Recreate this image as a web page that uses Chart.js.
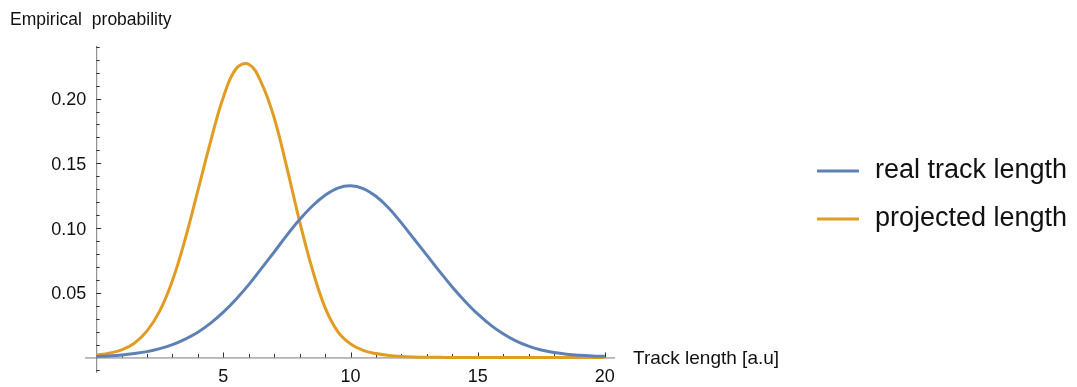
<!DOCTYPE html>
<html>
<head>
<meta charset="utf-8">
<script src="https://cdn.jsdelivr.net/npm/chart.js@4.4.1/dist/chart.umd.min.js"></script>
<style>
  html, body { margin: 0; padding: 0; background: #ffffff; }
</style>
</head>
<body>
<canvas id="plot" width="1077" height="387"></canvas>
<script>
// values, x step 0.5
const trackLength = [0, 0.5, 1, 1.5, 2, 2.5, 3, 3.5, 4, 4.5, 5, 5.5, 6, 6.5, 7, 7.5, 8, 8.5, 9, 9.5, 10,
  10.5, 11, 11.5, 12, 12.5, 13, 13.5, 14, 14.5, 15, 15.5, 16, 16.5, 17, 17.5, 18, 18.5, 19, 19.5, 20];
const realTrack = [0.0007, 0.0012, 0.0019, 0.003, 0.0045, 0.0068, 0.0099, 0.0142, 0.0195, 0.0265,
  0.035, 0.045, 0.0563, 0.0688, 0.0815, 0.0945, 0.1065, 0.117, 0.1253, 0.1308, 0.1326,
  0.1305, 0.1245, 0.1155, 0.104, 0.0915, 0.079, 0.0665, 0.0545, 0.0435, 0.0336, 0.0252, 0.0183,
  0.0128, 0.0087, 0.0058, 0.0038, 0.0025, 0.0017, 0.0012, 0.0009];
const projected = [0.0018, 0.0033, 0.0058, 0.011, 0.0205, 0.036, 0.0595, 0.0915, 0.129, 0.167, 0.201,
  0.223, 0.2265, 0.212, 0.185, 0.1465, 0.105, 0.068, 0.0385, 0.02, 0.0105, 0.0055, 0.003, 0.0016,
  0.0008, 0.0004, 0.0002, 0.0001, 0, 0, 0, 0, 0, 0, 0, 0, 0, 0, 0, 0, 0];

const seriesNames = ['real track length', 'projected length'];
const seriesColors = ['#5e81b5', '#e19c24'];
const xMajor = [5, 10, 15, 20];
const xLabels = ['5', '10', '15', '20'];
const yMajor = [0.05, 0.10, 0.15, 0.20];
const yLabels = ['0.05', '0.10', '0.15', '0.20'];
const xTitle = 'Track length [a.u]';
const yTitle = 'Empirical probability';

const FONT = '"Liberation Sans", Arial, sans-serif';

// axes through the origin, ticks pointing inwards (Mathematica style)
const axesPlugin = {
  id: 'axes',
  beforeDatasetsDraw(chart) {
    const {ctx, scales: {x, y}} = chart;
    const x0 = x.getPixelForValue(0);
    const y0 = y.getPixelForValue(0);
    ctx.save();
    ctx.lineWidth = 1;
    ctx.strokeStyle = '#7a7a7a';
    ctx.beginPath();
    ctx.moveTo(x.left, y0 + 0.5);
    ctx.lineTo(x.right, y0 + 0.5);
    ctx.moveTo(x0 + 0.5, y.top);
    ctx.lineTo(x0 + 0.5, y.bottom);
    ctx.stroke();

    ctx.strokeStyle = '#333';
    ctx.beginPath();
    for (let v = 1; v <= 20; v++) {
      const px = Math.round(x.getPixelForValue(v)) + 0.5;
      const len = v % 5 === 0 ? 5 : 3.5;
      ctx.moveTo(px, y0);
      ctx.lineTo(px, y0 - len);
    }
    for (let i = -1; i <= 24; i++) {
      if (i === 0) continue;
      const py = Math.round(y.getPixelForValue(i / 100)) + 0.5;
      const len = i % 5 === 0 ? 5 : 3.5;
      ctx.moveTo(x0, py);
      ctx.lineTo(x0 + len, py);
    }
    ctx.stroke();
    ctx.restore();
  },
  afterDraw(chart) {
    const {ctx, scales: {x, y}} = chart;
    const x0 = x.getPixelForValue(0);
    const y0 = y.getPixelForValue(0);
    ctx.save();
    ctx.fillStyle = '#111';
    ctx.font = '18px ' + FONT;
    ctx.textBaseline = 'alphabetic';
    ctx.textAlign = 'center';
    xMajor.forEach((v, i) => ctx.fillText(xLabels[i], x.getPixelForValue(v), y0 + 25));
    ctx.textAlign = 'right';
    yMajor.forEach((v, i) => ctx.fillText(yLabels[i], x0 - 10, y.getPixelForValue(v) + 6.5));

    ctx.textAlign = 'left';
    ctx.font = '19px ' + FONT;
    ctx.fillText(xTitle, x.right + 18, y0 + 7);
    ctx.font = '17.5px ' + FONT;
    ctx.wordSpacing = '5px';
    ctx.fillText(yTitle, 10, 25);
    ctx.wordSpacing = '0px';

    // legend
    ctx.font = '27px ' + FONT;
    chart.data.datasets.forEach((ds, i) => {
      const ly = 171 + i * 48;
      ctx.strokeStyle = ds.borderColor;
      ctx.lineWidth = 3;
      ctx.beginPath();
      ctx.moveTo(817, ly);
      ctx.lineTo(859, ly);
      ctx.stroke();
      ctx.fillText(ds.label, 875, ly + 7);
    });
    ctx.restore();
  }
};

const points = vals => trackLength.map((t, i) => ({x: t, y: vals[i]}));

new Chart(document.getElementById('plot'), {
  type: 'line',
  data: {
    datasets: [
      {label: seriesNames[0], data: points(realTrack), borderColor: seriesColors[0]},
      {label: seriesNames[1], data: points(projected), borderColor: seriesColors[1]}
    ]
  },
  options: {
    responsive: false,
    animation: false,
    events: [],
    layout: {padding: {left: 85, right: 462, top: 46, bottom: 14}},
    elements: {
      line: {borderWidth: 3, tension: 0.4, fill: false},
      point: {radius: 0}
    },
    scales: {
      x: {type: 'linear', min: -0.44, max: 20.4, display: false},
      y: {type: 'linear', min: -0.012, max: 0.2406, display: false}
    },
    plugins: {legend: {display: false}, tooltip: {enabled: false}}
  },
  plugins: [axesPlugin]
});
</script>
</body>
</html>
